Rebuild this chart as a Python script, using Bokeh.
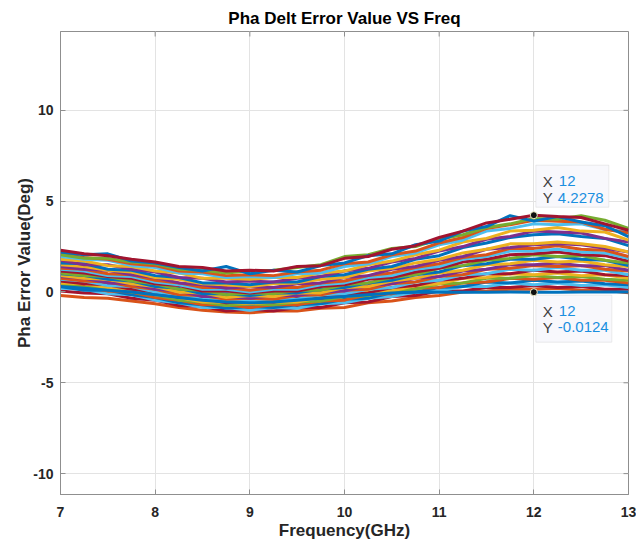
from bokeh.plotting import figure
from bokeh.models import FixedTicker, Range1d, Label, BoxAnnotation
from bokeh.embed import file_html
from bokeh.resources import INLINE

freq = [7.0, 7.25, 7.5, 7.75, 8.0, 8.25, 8.5, 8.75, 9.0, 9.25, 9.5, 9.75, 10.0,
        10.25, 10.5, 10.75, 11.0, 11.25, 11.5, 11.75, 12.0, 12.25, 12.5, 12.75, 13.0]

s01 = [2.3, 2.1, 2.0, 1.8, 1.65, 1.4, 1.35, 1.15, 1.2, 1.15, 1.4, 1.45, 1.85, 1.95, 2.35, 2.55, 3.0, 3.35, 3.8, 4.0, 4.2278, 4.15, 4.1, 3.75, 3.4]
s02 = [2.2, 2.05, 2.1, 1.7, 1.6, 1.35, 1.15, 1.4, 1.0, 1.2, 1.1, 1.45, 1.6, 2.0, 2.1, 2.6, 2.8, 3.35, 3.6, 4.2, 3.9, 4.15, 3.85, 3.65, 3.05]
s03 = [2.05, 1.85, 1.85, 1.65, 1.55, 1.25, 1.2, 1.05, 1.15, 1.2, 1.35, 1.5, 1.95, 2.05, 2.4, 2.5, 2.9, 3.15, 3.55, 3.75, 4.05, 4.0, 4.2, 3.95, 3.5]
s04 = [2.1, 1.9, 1.8, 1.55, 1.45, 1.15, 1.1, 0.9, 0.95, 0.9, 1.1, 1.2, 1.55, 1.65, 2.05, 2.25, 2.7, 3.0, 3.5, 3.7, 3.95, 3.9, 3.85, 3.45, 3.25]
s05 = [1.95, 1.8, 1.75, 1.45, 1.35, 1.05, 1.0, 0.8, 0.85, 0.8, 1.0, 1.05, 1.4, 1.55, 1.95, 2.15, 2.6, 2.85, 3.35, 3.5, 3.75, 3.7, 3.75, 3.45, 3.3]
s06 = [1.8, 1.7, 1.45, 1.4, 1.15, 1.05, 0.75, 0.75, 0.7, 0.8, 0.8, 1.05, 1.15, 1.5, 1.7, 2.05, 2.3, 2.75, 2.95, 3.35, 3.4, 3.55, 3.35, 3.3, 2.85]
s07 = [1.75, 1.5, 1.5, 1.25, 1.1, 0.8, 0.75, 0.55, 0.6, 0.55, 0.75, 0.85, 1.15, 1.3, 1.65, 1.85, 2.25, 2.5, 2.9, 3.05, 3.35, 3.3, 3.25, 2.95, 2.75]
s08 = [1.6, 1.55, 1.25, 1.2, 0.9, 0.8, 0.5, 0.5, 0.4, 0.55, 0.55, 0.85, 0.95, 1.25, 1.4, 1.8, 2.0, 2.45, 2.7, 3.0, 3.15, 3.2, 3.05, 2.95, 2.55]
s09 = [1.5, 1.4, 1.2, 1.1, 0.8, 0.7, 0.45, 0.4, 0.3, 0.45, 0.5, 0.7, 0.8, 1.15, 1.3, 1.6, 1.8, 2.15, 2.35, 2.65, 2.65, 2.75, 2.65, 2.5, 2.2]
s10 = [1.4, 1.25, 1.2, 0.95, 0.8, 0.5, 0.4, 0.2, 0.3, 0.25, 0.45, 0.5, 0.8, 0.9, 1.25, 1.4, 1.75, 1.95, 2.35, 2.45, 2.6, 2.65, 2.6, 2.4, 2.2]
s11 = [1.3, 1.25, 1.0, 0.95, 0.65, 0.5, 0.25, 0.25, 0.1, 0.25, 0.25, 0.5, 0.6, 0.9, 1.05, 1.35, 1.55, 1.9, 2.05, 2.4, 2.4, 2.55, 2.35, 2.3, 1.95]
s12 = [1.25, 1.15, 0.9, 0.85, 0.55, 0.4, 0.15, 0.15, 0.0, 0.15, 0.15, 0.4, 0.5, 0.8, 0.9, 1.25, 1.4, 1.8, 1.95, 2.25, 2.25, 2.35, 2.2, 2.15, 1.85]
s13 = [1.15, 1.05, 0.85, 0.75, 0.45, 0.35, 0.05, 0.05, -0.05, 0.05, 0.05, 0.3, 0.4, 0.7, 0.8, 1.1, 1.3, 1.65, 1.8, 2.05, 2.1, 2.2, 2.05, 2.0, 1.7]
s14 = [1.05, 0.9, 0.85, 0.6, 0.45, 0.15, 0.1, -0.15, -0.05, -0.1, 0.1, 0.1, 0.4, 0.5, 0.8, 0.95, 1.3, 1.45, 1.75, 1.85, 2.05, 1.95, 2.0, 1.75, 1.6]
s15 = [1.0, 0.9, 0.7, 0.6, 0.3, 0.2, -0.1, -0.1, -0.2, -0.05, -0.05, 0.15, 0.25, 0.5, 0.65, 0.95, 1.1, 1.45, 1.55, 1.8, 1.8, 1.95, 1.8, 1.75, 1.45]
s16 = [0.9, 0.75, 0.7, 0.45, 0.3, 0.0, -0.05, -0.3, -0.2, -0.25, -0.05, -0.05, 0.25, 0.3, 0.6, 0.75, 1.05, 1.2, 1.5, 1.55, 1.75, 1.65, 1.7, 1.5, 1.4]
s17 = [0.85, 0.75, 0.5, 0.45, 0.15, 0.05, -0.25, -0.25, -0.35, -0.2, -0.2, 0.0, 0.05, 0.35, 0.45, 0.75, 0.85, 1.15, 1.25, 1.5, 1.5, 1.6, 1.45, 1.45, 1.2]
s18 = [0.75, 0.6, 0.55, 0.3, 0.15, -0.15, -0.2, -0.4, -0.35, -0.4, -0.2, -0.15, 0.1, 0.15, 0.45, 0.55, 0.85, 0.95, 1.25, 1.3, 1.45, 1.4, 1.45, 1.25, 1.15]
s19 = [0.7, 0.6, 0.35, 0.3, 0.0, -0.15, -0.4, -0.4, -0.5, -0.4, -0.4, -0.15, -0.1, 0.15, 0.25, 0.55, 0.65, 0.95, 1.0, 1.25, 1.2, 1.35, 1.2, 1.2, 0.95]
s20 = [0.6, 0.45, 0.4, 0.15, 0.0, -0.3, -0.35, -0.6, -0.5, -0.55, -0.35, -0.35, -0.1, -0.05, 0.25, 0.35, 0.65, 0.75, 1.0, 1.0, 1.2, 1.1, 1.15, 0.95, 0.9]
s21 = [0.5, 0.45, 0.25, 0.15, -0.15, -0.3, -0.55, -0.55, -0.65, -0.55, -0.55, -0.3, -0.25, 0.0, 0.05, 0.35, 0.45, 0.75, 0.8, 1.0, 0.95, 1.05, 0.9, 0.95, 0.75]
s22 = [0.45, 0.25, 0.25, 0.0, -0.15, -0.45, -0.55, -0.75, -0.65, -0.7, -0.55, -0.5, -0.25, -0.2, 0.1, 0.15, 0.45, 0.5, 0.75, 0.75, 0.9, 0.8, 0.85, 0.7, 0.65]
s23 = [0.35, 0.3, 0.05, 0.0, -0.3, -0.45, -0.7, -0.7, -0.85, -0.7, -0.7, -0.5, -0.45, -0.15, -0.1, 0.2, 0.25, 0.5, 0.55, 0.75, 0.7, 0.8, 0.65, 0.65, 0.5]
s24 = [0.3, 0.1, 0.1, -0.15, -0.3, -0.6, -0.7, -0.9, -0.8, -0.85, -0.7, -0.65, -0.4, -0.35, -0.05, 0.0, 0.25, 0.3, 0.55, 0.5, 0.65, 0.55, 0.6, 0.45, 0.4]
s25 = [0.2, 0.15, -0.1, -0.15, -0.45, -0.6, -0.85, -0.85, -1.0, -0.85, -0.9, -0.65, -0.6, -0.35, -0.25, 0.0, 0.05, 0.3, 0.3, 0.5, 0.4, 0.5, 0.35, 0.4, 0.25]
s26 = [0.05, -0.05, -0.1, -0.35, -0.45, -0.75, -0.8, -1.05, -0.95, -1.05, -0.85, -0.85, -0.6, -0.55, -0.25, -0.2, 0.05, 0.05, 0.25, 0.25, 0.35, 0.25, 0.3, 0.15, 0.15]
s27 = [-0.2, -0.3, -0.35, -0.5, -0.65, -0.85, -1.0, -1.1, -1.15, -1.05, -1.05, -0.9, -0.85, -0.6, -0.5, -0.3, -0.2, 0.0, 0.05, 0.15, 0.15, 0.2, 0.1, 0.1, -0.05]
s28 = [0.3, 0.2, 0.1, 0.0, -0.15, -0.3, -0.45, -0.55, -0.6, -0.55, -0.45, -0.35, -0.25, -0.15, -0.05, 0.0, -0.02, -0.01, -0.01, 0.0, -0.0124, -0.01, 0.0, 0.0, 0.0]

series = [s27, s26, s25, s24, s23, s22, s21, s20, s19, s18, s17, s16, s15, s14,
          s13, s12, s11, s10, s09, s08, s07, s06, s05, s04, s03, s02, s01, s28]
colors = ["#D95319", "#A2142F", "#4DBEEE", "#0072BD", "#D95319", "#77AC30", "#EDB120",
          "#A2142F", "#4DBEEE", "#D95319", "#7E2F8E", "#EDB120", "#0072BD", "#77AC30",
          "#A2142F", "#4DBEEE", "#D95319", "#7E2F8E", "#EDB120", "#0072BD", "#7E2F8E",
          "#EDB120", "#4DBEEE", "#D95319", "#77AC30", "#0072BD", "#A2142F", "#0072BD"]

tip_x = [12, 12]
tip_y = [4.2278, -0.0124]

xticks = [7, 8, 9, 10, 11, 12, 13]
yticks = [-10, -5, 0, 5, 10]
ytick_labels = {-10: "-10", -5: "-5", 0: "0", 5: "5", 10: "10"}

FONT = "Liberation Sans"
AX = "#8f8f8f"
TXT = "#262626"
X0, X1, Y0, Y1 = 7, 13, -11.15, 14.34

p = figure(width=636, height=544, output_backend="svg", toolbar_location=None,
           x_range=Range1d(X0, X1), y_range=Range1d(Y0, Y1),
           min_border_left=60, min_border_right=8, min_border_top=31, min_border_bottom=50,
           title="Pha Delt Error Value VS Freq")
p.title.align = "center"
p.title.text_font = FONT
p.title.text_font_size = "17px"
p.title.text_font_style = "bold"
p.title.text_color = "#000000"
p.title.standoff = 7

p.background_fill_color = "white"
p.outline_line_color = AX
p.xgrid.grid_line_color = "#e3e3e3"
p.ygrid.grid_line_color = "#e3e3e3"
p.xaxis.ticker = FixedTicker(ticks=xticks)
p.yaxis.ticker = FixedTicker(ticks=yticks)
p.xgrid.ticker = FixedTicker(ticks=xticks)
p.ygrid.ticker = FixedTicker(ticks=yticks)
p.yaxis.major_label_overrides = ytick_labels

for ax in (p.xaxis, p.yaxis):
    ax.axis_line_color = AX
    ax.major_tick_line_color = AX
    ax.major_tick_in = 5
    ax.major_tick_out = 0
    ax.minor_tick_line_color = None
    ax.major_label_text_font = FONT
    ax.major_label_text_font_style = "bold"
    ax.major_label_text_font_size = "14px"
    ax.major_label_text_color = TXT
    ax.axis_label_text_font = FONT
    ax.axis_label_text_font_style = "bold"
    ax.axis_label_text_font_size = "17px"
    ax.axis_label_text_color = TXT
p.xaxis.axis_label = "Frequency(GHz)"
p.yaxis.axis_label = "Pha Error Value(Deg)"
p.xaxis.major_label_standoff = 12
p.yaxis.major_label_standoff = 7
p.xaxis.axis_label_standoff = 1
p.yaxis.axis_label_standoff = -4

# inward ticks on the top and right edges of the box
XPX = 568 / (X1 - X0)
YPX = 463 / (Y1 - Y0)
p.segment(x0=xticks, y0=[Y1] * len(xticks), x1=xticks, y1=[Y1 - 5 / YPX] * len(xticks),
          line_color=AX, line_width=1)
p.segment(x0=[X1] * len(yticks), y0=yticks, x1=[X1 - 5 / XPX] * len(yticks), y1=yticks,
          line_color=AX, line_width=1)

for s, c in zip(series, colors):
    p.line(freq, s, line_color=c, line_width=3)

# data tips
def box(x, y, l, r, t, b):
    return BoxAnnotation(left=x + l / XPX, right=x + r / XPX, top=y + t / YPX, bottom=y + b / YPX,
                         fill_color="#f8f8fc", fill_alpha=1.0, line_color="#c4c4c4", line_width=1)

p.add_layout(box(tip_x[0], tip_y[0], 2, 75, 50, 8))
p.add_layout(box(tip_x[1], tip_y[1], 2, 78, -3, -50))

def tip_text(x, y, dy1, dy2, val_x, val_y):
    for txt, dx, dy, col in (("X", 9, dy1, "#404040"), (val_x, 25, dy1, "#1a8fe0"),
                             ("Y", 9, dy2, "#404040"), (val_y, 24, dy2, "#1a8fe0")):
        p.add_layout(Label(x=x, y=y, x_offset=dx, y_offset=dy, text=txt, text_font=FONT,
                           text_font_size="15px", text_baseline="middle", text_color=col))

tip_text(tip_x[0], tip_y[0], 34, 17.5, "12", "4.2278")
tip_text(tip_x[1], tip_y[1], -19, -35, "12", "-0.0124")

p.scatter(tip_x, tip_y, size=7, fill_color="#111111", line_color="#f2f0c8", line_width=1)

open("out.html", "w").write(file_html(p, INLINE))
